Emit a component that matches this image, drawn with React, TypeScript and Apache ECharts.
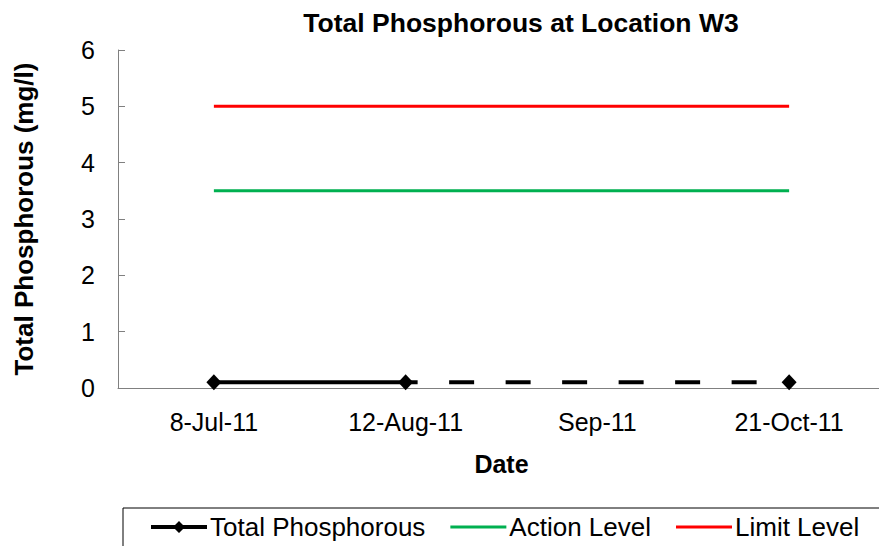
import React, { useEffect, useRef } from "react";
import * as echarts from "echarts";

const categories = ["8-Jul-11", "12-Aug-11", "Sep-11", "21-Oct-11"];
const totalPhosphorous = [0.1, 0.1, null, 0.1];
const dashedLink = [null, 0.1, null, 0.1];
const actionLevel = [3.5, 3.5, 3.5, 3.5];
const limitLevel = [5, 5, 5, 5];
const yTicks = { min: 0, max: 6, interval: 1 };

const lineIcon = "path://M0,0L0.01,0ZM0,14L0.01,14ZM0,5.5H56V8.5H0Z";
const markerLineIcon = "path://M0,0L0.01,0ZM0,14L0.01,14ZM0,5H56V9H0ZM28,1L34,7L28,13L22,7Z";

export default function App() {
  const ref = useRef<HTMLDivElement>(null);
  useEffect(() => {
    if (!ref.current) return;
    const chart = echarts.init(ref.current, undefined, { renderer: "svg" });
    const font = "Liberation Sans, Arial, sans-serif";
    chart.setOption({
      animation: false,
      backgroundColor: "#ffffff",
      title: {
        text: "Total Phosphorous at Location W3",
        left: 516,
        textAlign: "center",
        top: 4,
        textStyle: { fontFamily: font, fontSize: 26.5, fontWeight: "bold", color: "#000" },
      },
      grid: { left: 118, right: 0, top: 50, bottom: 158 },
      graphic: [
        {
          type: "rect",
          shape: { x: 123, y: 508, width: 800, height: 60 },
          style: { fill: "none", stroke: "#000", lineWidth: 1 },
          z: -1,
        },
      ],
      legend: {
        left: 146,
        top: 509,
        itemWidth: 56,
        itemHeight: 14,
        itemGap: 25,
        data: [
          { name: "Total Phosphorous", icon: markerLineIcon },
          { name: "Action Level", icon: lineIcon },
          { name: "Limit Level", icon: lineIcon },
        ],
        textStyle: { fontFamily: font, fontSize: 26, color: "#000", padding: [0, 0, 0, -2] },
      },
      xAxis: {
        type: "category",
        data: categories,
        boundaryGap: true,
        name: "Date",
        nameLocation: "middle",
        nameGap: 63,
        nameTextStyle: { fontFamily: font, fontSize: 25, fontWeight: "bold", color: "#000" },
        axisLine: { lineStyle: { color: "#808080", width: 1 } },
        axisTick: { inside: true, length: 7, lineStyle: { color: "#808080" } },
        axisLabel: { fontFamily: font, fontSize: 25, color: "#000", margin: 21 },
      },
      yAxis: {
        type: "value",
        min: yTicks.min,
        max: yTicks.max,
        interval: yTicks.interval,
        name: "Total Phosphorous (mg/l)",
        nameLocation: "middle",
        nameGap: 81,
        nameTextStyle: { fontFamily: font, fontSize: 26, fontWeight: "bold", color: "#000" },
        axisLine: { show: true, lineStyle: { color: "#808080", width: 1 } },
        axisTick: { show: true, inside: true, length: 7, lineStyle: { color: "#808080" } },
        axisLabel: { fontFamily: font, fontSize: 25, color: "#000", margin: 23 },
        splitLine: { show: false },
      },
      series: [
        {
          name: "Total Phosphorous",
          type: "line",
          data: totalPhosphorous,
          connectNulls: false,
          symbol: "diamond",
          symbolSize: [15, 16],
          itemStyle: { color: "#000" },
          lineStyle: { color: "#000", width: 4 },
          z: 5,
        },
        {
          name: "dashed",
          type: "line",
          data: dashedLink,
          connectNulls: true,
          showSymbol: false,
          symbol: "none",
          lineStyle: { color: "#000", width: 4, type: [25, 31.5], dashOffset: 12.5 },
          z: 4,
        },
        {
          name: "Action Level",
          type: "line",
          data: actionLevel,
          symbol: "none",
          itemStyle: { color: "#00B050" },
          lineStyle: { color: "#00B050", width: 3 },
        },
        {
          name: "Limit Level",
          type: "line",
          data: limitLevel,
          symbol: "none",
          itemStyle: { color: "#FF0000" },
          lineStyle: { color: "#FF0000", width: 3 },
        },
      ],
    });
    return () => chart.dispose();
  }, []);
  return (
    <div style={{ position: "absolute", left: 0, top: 0, width: 879, height: 546, overflow: "hidden", background: "#fff" }}>
      <div ref={ref} style={{ width: 885, height: 546 }} />
    </div>
  );
}
